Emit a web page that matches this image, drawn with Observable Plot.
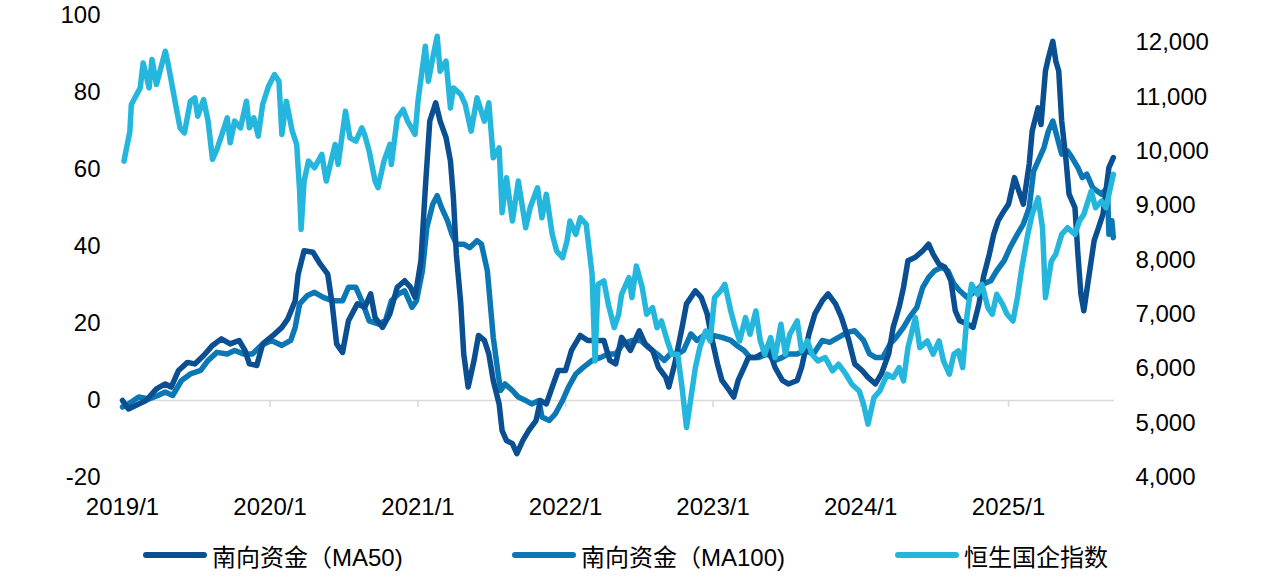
<!DOCTYPE html>
<html>
<head>
<meta charset="utf-8">
<script src="https://cdn.jsdelivr.net/npm/d3@7"></script>
<script src="https://cdn.jsdelivr.net/npm/@observablehq/plot@0.6"></script>
<style>
  html, body { margin: 0; padding: 0; background: #fff; }
  #wrap { position: relative; width: 1269px; height: 583px; overflow: hidden; }
  #legend { position: absolute; left: 0; top: 520px; width: 1269px; height: 63px;
    font-family: "Liberation Sans", Arial, "Noto Sans CJK SC", sans-serif; font-size: 24px; color: #000; }
  .item { position: absolute; top: 21px; display: flex; align-items: center; height: 28px; white-space: nowrap; }
  .sw { width: 64px; height: 6.5px; border-radius: 4px; margin-right: 5px; }
</style>
</head>
<body>
<div id="wrap"><div id="chart"></div><div id="legend"></div></div>
<script>
// ---- Data (decimal year, value) ----
const seriesNames = ["南向资金（MA50)", "南向资金（MA100)", "恒生国企指数"];
const seriesColors = ["#0a4f92", "#0b77b5", "#25b6dd"];
const leftTicks = [-20, 0, 20, 40, 60, 80, 100];
const rightTicks = [4000, 5000, 6000, 7000, 8000, 9000, 10000, 11000, 12000];
const xTickYears = [2019, 2020, 2021, 2022, 2023, 2024, 2025];

const ma50 = [
[2019.00,0],[2019.04,-2.2],[2019.11,-0.9],[2019.16,0],[2019.23,3.0],[2019.29,4.3],[2019.33,3.5],[2019.38,7.8],
[2019.44,9.9],[2019.49,9.5],[2019.55,11.7],[2019.61,14.3],[2019.67,16.0],[2019.73,14.7],[2019.79,15.6],[2019.83,13.0],
[2019.86,9.5],[2019.91,9.1],[2019.95,14.7],[2020.02,16.9],[2020.08,19.0],[2020.12,21.2],[2020.17,25.9],[2020.19,32.8],
[2020.23,38.9],[2020.29,38.5],[2020.34,35.4],[2020.39,32.8],[2020.42,25.1],[2020.45,14.7],[2020.49,12.5],[2020.53,20.7],
[2020.59,25.1],[2020.64,24.2],[2020.68,27.7],[2020.71,21.5],[2020.76,19.0],[2020.81,22.5],[2020.86,29.4],[2020.91,31.1],
[2020.95,29.4],[2020.98,26.8],[2021.02,36.3],[2021.05,55.3],[2021.08,72.6],[2021.12,77.3],[2021.15,72.6],[2021.19,68.3],
[2021.22,62.2],[2021.24,52.7],[2021.26,38.0],[2021.29,25.1],[2021.31,12.1],[2021.34,3.5],[2021.38,10.4],[2021.41,16.9],
[2021.45,15.6],[2021.48,12.1],[2021.51,5.2],[2021.55,-0.9],[2021.57,-7.8],[2021.60,-10.4],[2021.64,-11.2],[2021.67,-13.8],
[2021.71,-10.4],[2021.75,-7.8],[2021.80,-5.2],[2021.83,0],[2021.87,-0.9],[2021.91,3.5],[2021.95,7.8],[2022.00,7.8],
[2022.04,13.0],[2022.10,16.9],[2022.15,15.6],[2022.20,15.6],[2022.26,15.6],[2022.30,10.4],[2022.34,9.5],[2022.38,16.4],
[2022.44,13.0],[2022.50,18.1],[2022.54,14.7],[2022.59,13.0],[2022.63,8.6],[2022.68,6.0],[2022.70,3.5],[2022.74,9.5],
[2022.79,19.0],[2022.82,25.1],[2022.88,28.5],[2022.92,26.8],[2022.96,22.5],[2022.99,16.4],[2023.03,9.5],[2023.06,5.2],
[2023.11,2.6],[2023.14,0.9],[2023.17,5.2],[2023.21,8.6],[2023.24,11.2],[2023.29,11.2],[2023.33,12.1],[2023.38,13.0],
[2023.42,8.6],[2023.47,5.2],[2023.51,4.3],[2023.57,5.2],[2023.60,8.6],[2023.65,17.3],[2023.69,22.5],[2023.74,25.9],
[2023.78,27.7],[2023.83,25.1],[2023.87,21.6],[2023.92,15.6],[2023.96,9.5],[2024.01,7.8],[2024.05,6.0],[2024.10,4.3],
[2024.14,6.9],[2024.19,12.1],[2024.22,19.0],[2024.26,24.2],[2024.29,29.4],[2024.32,36.3],[2024.37,37.2],[2024.42,38.9],
[2024.46,40.6],[2024.49,38.0],[2024.53,35.4],[2024.57,34.6],[2024.61,31.1],[2024.64,23.3],[2024.67,20.7],[2024.72,19.9],
[2024.76,19.0],[2024.80,25.1],[2024.83,32.0],[2024.87,38.0],[2024.90,43.2],[2024.93,46.7],[2024.97,49.3],[2025.00,51.0],
[2025.04,57.9],[2025.07,54.4],[2025.10,51.0],[2025.14,61.4],[2025.16,70.0],[2025.20,76.0],[2025.22,71.7],[2025.25,85.6],
[2025.27,89.0],[2025.30,93.3],[2025.32,88.2],[2025.34,85.6],[2025.36,72.6],[2025.39,62.2],[2025.41,53.6],[2025.45,50.1],
[2025.47,38.0],[2025.49,27.7],[2025.51,23.3],[2025.54,31.1],[2025.58,41.5],[2025.61,44.9],[2025.64,48.4],[2025.68,60.5],
[2025.71,63.1]
];

const ma100 = [
[2019.00,-1.7],[2019.04,-0.9],[2019.11,0.9],[2019.18,0.4],[2019.24,1.3],[2019.29,2.2],[2019.34,1.3],[2019.40,5.2],
[2019.46,6.9],[2019.53,7.8],[2019.58,10.4],[2019.64,12.5],[2019.71,12.1],[2019.76,13.0],[2019.82,12.1],[2019.88,12.1],
[2019.94,14.3],[2020.01,15.6],[2020.08,14.3],[2020.14,15.6],[2020.17,19.0],[2020.20,25.1],[2020.25,27.2],[2020.30,28.1],
[2020.36,26.8],[2020.42,25.9],[2020.49,25.9],[2020.53,29.4],[2020.58,29.4],[2020.62,25.9],[2020.67,20.7],[2020.73,19.9],
[2020.78,20.7],[2020.82,25.9],[2020.87,27.7],[2020.91,28.5],[2020.96,24.2],[2020.99,25.9],[2021.03,33.7],[2021.06,44.9],
[2021.10,51.0],[2021.13,53.2],[2021.16,50.1],[2021.20,46.7],[2021.23,43.2],[2021.26,40.6],[2021.31,40.6],[2021.35,39.7],
[2021.40,41.5],[2021.43,40.6],[2021.47,33.7],[2021.49,25.1],[2021.51,16.4],[2021.54,7.8],[2021.56,2.6],[2021.59,4.3],
[2021.64,2.6],[2021.68,0.9],[2021.73,0],[2021.77,-0.9],[2021.82,0],[2021.84,-4.3],[2021.89,-5.2],[2021.93,-3.5],
[2021.98,0],[2022.02,3.5],[2022.07,6.9],[2022.12,8.6],[2022.18,10.4],[2022.24,11.2],[2022.29,12.1],[2022.34,12.1],
[2022.39,14.7],[2022.45,15.6],[2022.51,15.6],[2022.56,13.8],[2022.62,12.1],[2022.67,10.4],[2022.71,12.1],[2022.76,12.1],
[2022.80,13.0],[2022.85,17.3],[2022.89,15.6],[2022.95,17.3],[2023.00,16.9],[2023.06,16.4],[2023.12,15.6],[2023.16,14.3],
[2023.21,13.0],[2023.25,11.2],[2023.31,11.2],[2023.37,12.1],[2023.42,10.4],[2023.47,11.2],[2023.51,12.1],[2023.57,12.1],
[2023.62,13.0],[2023.68,12.1],[2023.74,15.6],[2023.79,15.1],[2023.85,16.4],[2023.91,17.7],[2023.96,18.1],[2024.02,15.6],
[2024.06,12.1],[2024.10,11.2],[2024.15,11.2],[2024.20,14.7],[2024.24,16.4],[2024.29,19.0],[2024.33,21.6],[2024.38,24.2],
[2024.42,29.4],[2024.46,32.0],[2024.50,33.7],[2024.55,34.6],[2024.59,33.7],[2024.63,30.3],[2024.67,28.5],[2024.72,26.8],
[2024.78,28.5],[2024.83,30.3],[2024.88,31.1],[2024.92,33.7],[2024.97,36.3],[2025.01,39.7],[2025.06,43.2],[2025.10,45.8],
[2025.14,50.1],[2025.17,59.6],[2025.20,62.2],[2025.24,65.7],[2025.27,70.0],[2025.30,72.6],[2025.33,68.3],[2025.36,64.0],
[2025.40,64.8],[2025.43,63.1],[2025.47,60.5],[2025.50,57.9],[2025.53,58.8],[2025.57,55.3],[2025.60,54.4],[2025.63,53.6],
[2025.67,55.3],[2025.68,43.2],[2025.70,46.7],[2025.71,42.3]
];

const hscei = [
[2019.01,9821],[2019.05,10372],[2019.06,10863],[2019.12,11168],[2019.14,11628],[2019.18,11168],[2019.20,11690],[2019.23,11230],
[2019.29,11843],[2019.31,11598],[2019.36,10863],[2019.39,10433],[2019.42,10341],[2019.46,10923],[2019.49,10984],[2019.51,10648],
[2019.55,10955],[2019.58,10556],[2019.61,9852],[2019.64,10036],[2019.67,10280],[2019.71,10617],[2019.73,10157],[2019.76,10556],
[2019.80,10433],[2019.84,10923],[2019.86,10433],[2019.89,10617],[2019.92,10280],[2019.95,10863],[2019.99,11200],[2020.03,11414],
[2020.06,11291],[2020.08,10312],[2020.11,10923],[2020.15,10372],[2020.18,10128],[2020.20,9270],[2020.21,8566],[2020.23,9454],
[2020.26,9821],[2020.30,9698],[2020.35,9944],[2020.38,9454],[2020.44,10128],[2020.46,9760],[2020.51,10739],[2020.54,10249],
[2020.58,10189],[2020.62,10433],[2020.64,10300],[2020.67,10005],[2020.71,9454],[2020.73,9331],[2020.77,9821],[2020.81,10128],
[2020.82,9760],[2020.86,10617],[2020.90,10771],[2020.93,10556],[2020.98,10312],[2021.00,10923],[2021.05,11935],[2021.07,11291],
[2021.10,11720],[2021.13,12119],[2021.15,11475],[2021.19,11659],[2021.22,10800],[2021.24,11168],[2021.29,11046],[2021.32,10863],
[2021.36,10372],[2021.40,10984],[2021.45,10556],[2021.48,10892],[2021.51,9882],[2021.55,10066],[2021.57,8871],[2021.60,9514],
[2021.64,8718],[2021.68,9454],[2021.73,8595],[2021.76,8963],[2021.81,9331],[2021.84,8779],[2021.87,9209],[2021.91,8473],
[2021.94,8167],[2021.98,8044],[2022.01,8351],[2022.03,8718],[2022.07,8473],[2022.10,8779],[2022.14,8657],[2022.18,7739],
[2022.20,6145],[2022.22,7555],[2022.26,7616],[2022.29,7187],[2022.33,6757],[2022.36,7003],[2022.38,7371],[2022.43,7676],
[2022.45,7309],[2022.48,7891],[2022.52,7493],[2022.55,7003],[2022.59,7125],[2022.62,6757],[2022.65,6880],[2022.69,6512],
[2022.72,6268],[2022.76,6268],[2022.79,5654],[2022.82,4919],[2022.85,5470],[2022.88,6022],[2022.91,6389],[2022.95,6696],
[2022.98,6512],[2023.01,7309],[2023.05,7432],[2023.08,7555],[2023.12,7064],[2023.15,6757],[2023.18,6512],[2023.22,6941],
[2023.25,6636],[2023.29,7064],[2023.32,6512],[2023.35,6268],[2023.39,6573],[2023.42,6206],[2023.46,6819],[2023.49,6268],
[2023.52,6636],[2023.57,6880],[2023.60,6328],[2023.64,6512],[2023.67,6268],[2023.71,6145],[2023.76,6206],[2023.81,5961],
[2023.85,6084],[2023.90,5900],[2023.94,5717],[2023.99,5593],[2024.02,5349],[2024.05,4981],[2024.09,5470],[2024.13,5593],
[2024.18,5900],[2024.22,5838],[2024.26,6022],[2024.29,5777],[2024.32,6389],[2024.37,6941],[2024.40,6389],[2024.45,6512],
[2024.49,6268],[2024.53,6512],[2024.56,6145],[2024.60,5900],[2024.63,6268],[2024.66,6328],[2024.69,6022],[2024.72,7003],
[2024.75,7555],[2024.79,7371],[2024.82,7555],[2024.86,7125],[2024.89,7003],[2024.92,7371],[2024.96,7187],[2024.99,7003],
[2025.03,6880],[2025.06,7309],[2025.09,7860],[2025.13,8473],[2025.16,8841],[2025.20,9146],[2025.23,8595],[2025.25,7309],
[2025.29,7983],[2025.32,8106],[2025.36,8473],[2025.40,8595],[2025.45,8473],[2025.48,8718],[2025.51,8841],[2025.56,9270],
[2025.59,8963],[2025.63,9086],[2025.66,8963],[2025.68,9209],[2025.71,9577]
];

// ---- helpers ----
function decYear(y) {
  const yr = Math.floor(y);
  const s = Date.UTC(yr, 0, 1), e = Date.UTC(yr + 1, 0, 1);
  return new Date(s + (y - yr) * (e - s));
}
const leftDomain = [-20, 100];
const rightDomain = [4000, 12500];
const toLeft = v => leftDomain[0] + (v - rightDomain[0]) / (rightDomain[1] - rightDomain[0]) * (leftDomain[1] - leftDomain[0]);
const fromLeft = v => rightDomain[0] + (v - leftDomain[0]) / (leftDomain[1] - leftDomain[0]) * (rightDomain[1] - rightDomain[0]);

const d50 = ma50.map(([t, v]) => ({date: decYear(t), v}));
const d100 = ma100.map(([t, v]) => ({date: decYear(t), v}));
const dIdx = hscei.map(([t, v]) => ({date: decYear(t), v: toLeft(v)}));
const xTicks = xTickYears.map(y => new Date(Date.UTC(y, 0, 1)));
const fmt = d3.format(",");
const lineStyle = {strokeWidth: 5.5, strokeLinejoin: "round", strokeLinecap: "round"};

const chart = Plot.plot({
  width: 1269,
  height: 520,
  marginLeft: 122,
  marginRight: 155,
  marginTop: 15,
  marginBottom: 43,
  style: {fontFamily: "'Liberation Sans', Arial, sans-serif", fontSize: "24px", color: "#000", background: "#fff", overflow: "visible"},
  x: {type: "utc", domain: [decYear(2019.0), decYear(2025.718)]},
  y: {domain: leftDomain},
  marks: [
    Plot.ruleY([0], {stroke: "#d9d9d9", strokeWidth: 1.6}),
    Plot.ruleX(xTicks, {x: d => d, y1: 0, y2: -1.8, stroke: "#d9d9d9", strokeWidth: 1.6}),
    Plot.axisY(leftTicks, {anchor: "left", tickSize: 0, tickPadding: 22, label: null, fontSize: 24,
      tickFormat: d => String(d)}),
    Plot.axisY(rightTicks.map(toLeft), {anchor: "right", tickSize: 0, tickPadding: 21, label: null, fontSize: 24,
      tickFormat: d => fmt(Math.round(fromLeft(d)))}),
    Plot.axisX(xTicks, {anchor: "bottom", tickSize: 0, tickPadding: 20, label: null, fontSize: 24,
      tickFormat: d => `${d.getUTCFullYear()}/1`}),
    Plot.line(d100, {x: "date", y: "v", stroke: seriesColors[1], ...lineStyle}),
    Plot.line(d50, {x: "date", y: "v", stroke: seriesColors[0], ...lineStyle}),
    Plot.line(dIdx, {x: "date", y: "v", stroke: seriesColors[2], ...lineStyle})
  ]
});
document.getElementById("chart").appendChild(chart);

// ---- legend ----
const legendLeft = [143, 512, 895];
const legend = document.getElementById("legend");
seriesNames.forEach((name, i) => {
  const item = document.createElement("div");
  item.className = "item";
  item.style.left = legendLeft[i] + "px";
  const sw = document.createElement("span");
  sw.className = "sw";
  sw.style.background = seriesColors[i];
  const tx = document.createElement("span");
  tx.textContent = name;
  item.appendChild(sw);
  item.appendChild(tx);
  legend.appendChild(item);
});
</script>
</body>
</html>
